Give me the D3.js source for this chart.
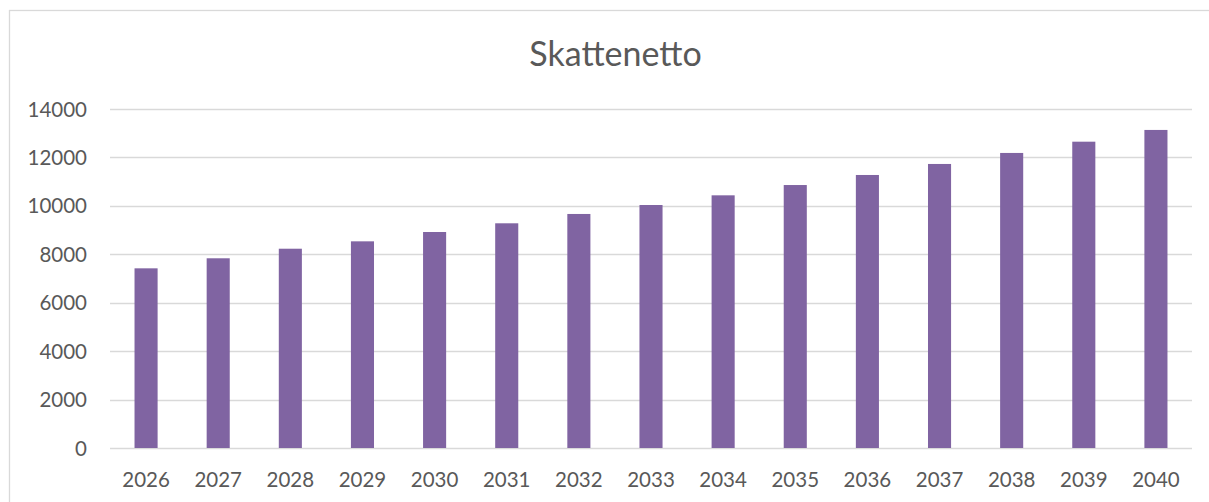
<!DOCTYPE html>
<html lang="sv">
<head>
<meta charset="UTF-8">
<title>Skattenetto</title>
<script src="https://d3js.org/d3.v7.min.js"></script>
<style>
  body { margin: 0; background: #fff; }
  svg { display: block; font-family: Lato, "Open Sans", sans-serif; }
</style>
</head>
<body>
<svg class="chart"></svg>
<script>
const years = ["2026", "2027", "2028", "2029", "2030", "2031", "2032", "2033",
               "2034", "2035", "2036", "2037", "2038", "2039", "2040"]
const skattenetto = [7420, 7835, 8230, 8535, 8920, 9280, 9665, 10035,
                     10435, 10860, 11275, 11730, 12185, 12650, 13135]
const yTicks = [0, 2000, 4000, 6000, 8000, 10000, 12000, 14000]

const W = 1209, H = 502
const margin = { top: 109, right: 17, bottom: 54, left: 110 }

const svg = d3.select(".chart").attr("width", W).attr("height", H)

// chart area frame (right and bottom edges fall outside the picture)
svg.append("rect")
  .attr("x", 9.5).attr("y", 10.5)
  .attr("width", W + 10).attr("height", H + 10)
  .attr("fill", "#fff").attr("stroke", "#d9d9d9").attr("stroke-width", 1.3)

const x = d3.scaleBand()
  .domain(years)
  .range([margin.left, W - margin.right])
  .paddingInner(0.68).paddingOuter(0.34)

const y = d3.scaleLinear()
  .domain([0, 14000])
  .range([H - margin.bottom, margin.top])

// gridlines
svg.append("g")
  .selectAll("line")
  .data(yTicks)
  .join("line")
  .attr("x1", margin.left).attr("x2", W - margin.right)
  .attr("y1", d => Math.round(y(d)) + 0.5).attr("y2", d => Math.round(y(d)) + 0.5)
  .attr("stroke", "#d9d9d9").attr("stroke-width", 1.3)

// y labels
svg.append("g")
  .selectAll("text")
  .data(yTicks)
  .join("text")
  .attr("x", margin.left - 23)
  .attr("y", d => y(d) + 7.5)
  .attr("text-anchor", "end")
  .attr("font-size", 20.5)
  .attr("fill", "#595959")
  .text(d => d)

// bars
svg.append("g")
  .selectAll("rect")
  .data(skattenetto)
  .join("rect")
  .attr("x", (d, i) => x(years[i]))
  .attr("width", x.bandwidth())
  .attr("y", d => y(d))
  .attr("height", d => y(0) - y(d))
  .attr("fill", "#8064a2")

// x labels
svg.append("g")
  .selectAll("text")
  .data(years)
  .join("text")
  .attr("x", d => x(d) + x.bandwidth() / 2)
  .attr("y", y(0) + 39)
  .attr("text-anchor", "middle")
  .attr("font-size", 20.5)
  .attr("fill", "#595959")
  .text(d => d)

// title
svg.append("text")
  .attr("x", 615.5).attr("y", 66)
  .attr("text-anchor", "middle")
  .attr("font-size", 34)
  .attr("fill", "#595959")
  .text("Skattenetto")
</script>
</body>
</html>
